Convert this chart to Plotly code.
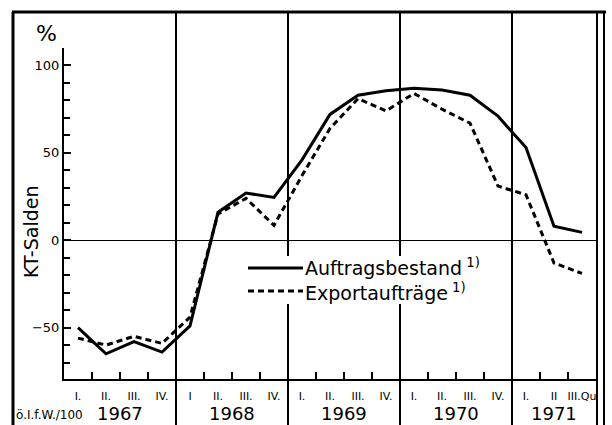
import plotly.graph_objects as go

# KT-Salden (Konjunkturtest), quarterly, 1967 I. - 1971 III.
quarters = ["I.", "II.", "III.", "IV.",
            "I", "II.", "III.", "IV.",
            "I.", "II.", "III.", "IV.",
            "I.", "II.", "III.", "IV.",
            "I.", "II", "III.Qu"]
years = ["1967", "1968", "1969", "1970", "1971"]
quarters_per_year = [4, 4, 4, 4, 3]
auftragsbestand = [-50, -65, -58, -64, -49, 16, 27, 24.5, 46, 72, 83, 85.5, 87, 86, 83, 71, 53, 8, 4.5]
exportauftraege = [-56, -60, -55, -59, -44, 15, 24, 8.5, 37, 64, 81, 74, 84, 75, 67, 31, 26, -13, -19]

x = list(range(len(quarters)))

# plot box in pixels (612x425 page)
L, R, T, B = 64, 596, 48, 379
W, H = R - L, B - T

def px(xp):
    return (xp - L) / W

def py(yp):
    return (B - yp) / H

FONT = "DejaVu Sans"

fig = go.Figure()
fig.add_trace(go.Scatter(x=x, y=auftragsbestand, mode="lines", name="Auftragsbestand",
                         line=dict(color="black", width=3), showlegend=False))
fig.add_trace(go.Scatter(x=x, y=exportauftraege, mode="lines", name="Exportaufträge",
                         line=dict(color="black", width=3, dash="6px,4px"), showlegend=False))

shapes = []
# year dividers, running through the whole frame
start = 0
year_centers = []
for n in quarters_per_year:
    year_centers.append(start + (n - 1) / 2)
    start += n
    if start < len(quarters):
        xb = start / len(quarters)
        shapes.append(dict(type="line", xref="paper", yref="paper", x0=xb, x1=xb,
                           y0=py(425), y1=py(12), line=dict(color="black", width=2)))

# outer frame
shapes += [
    dict(type="line", xref="paper", yref="paper", x0=px(13), x1=px(13), y0=py(425), y1=py(12),
         line=dict(color="black", width=3)),
    dict(type="line", xref="paper", yref="paper", x0=px(12), x1=px(606), y0=py(12), y1=py(12),
         line=dict(color="black", width=3)),
    dict(type="line", xref="paper", yref="paper", x0=px(597), x1=px(597), y0=py(425), y1=py(12),
         line=dict(color="black", width=2)),
    dict(type="line", xref="paper", yref="paper", x0=px(604), x1=px(604), y0=py(425), y1=py(12),
         line=dict(color="black", width=2)),
]

# legend box
shapes += [
    dict(type="rect", xref="paper", yref="paper", x0=px(244), x1=px(498), y0=py(304), y1=py(256),
         fillcolor="white", line=dict(width=0)),
    dict(type="line", xref="paper", yref="paper", x0=px(248), x1=px(303), y0=py(268), y1=py(268),
         line=dict(color="black", width=3)),
    dict(type="line", xref="paper", yref="paper", x0=px(248), x1=px(303), y0=py(291), y1=py(291),
         line=dict(color="black", width=3, dash="6px,4px")),
]

annotations = [
    dict(text="Auftragsbestand<sup> 1)</sup>", xref="paper", yref="paper", x=px(303), y=py(267),
         xanchor="left", yanchor="middle", showarrow=False, font=dict(size=19)),
    dict(text="Exportaufträge<sup> 1)</sup>", xref="paper", yref="paper", x=px(303), y=py(292),
         xanchor="left", yanchor="middle", showarrow=False, font=dict(size=19)),
    dict(text="%", xref="paper", yref="paper", x=px(46), y=py(34),
         xanchor="center", yanchor="middle", showarrow=False, font=dict(size=22)),
    dict(text="KT-Salden", xref="paper", yref="paper", x=px(31), y=py(232), textangle=-90,
         xanchor="center", yanchor="middle", showarrow=False, font=dict(size=19)),
    dict(text="ö.I.f.W./100", xref="paper", yref="paper", x=px(14), y=py(415),
         xanchor="left", yanchor="middle", showarrow=False, font=dict(size=12)),
]
for yr, xc in zip(years, year_centers):
    annotations.append(dict(text=yr, xref="x", yref="paper", x=xc, y=py(414),
                            xanchor="center", yanchor="middle", showarrow=False,
                            font=dict(size=18)))

fig.update_layout(
    width=612, height=425,
    margin=dict(l=L, r=612 - R, t=T, b=425 - B, autoexpand=False),
    plot_bgcolor="white", paper_bgcolor="white",
    font=dict(family=FONT, color="black"),
    shapes=shapes, annotations=annotations,
    showlegend=False,
    xaxis=dict(range=[-0.5, len(quarters) - 0.5], showgrid=False, zeroline=False,
               showline=True, linecolor="black", linewidth=2,
               tickmode="array", tickvals=x, ticktext=quarters, ticks="",
               tickfont=dict(size=11), ticklabelstandoff=6,
               minor=dict(tickmode="array", tickvals=[i - 0.5 for i in x[1:]],
                          ticks="inside", ticklen=7, tickwidth=2, tickcolor="black")),
    yaxis=dict(range=[-79.4, 110], showgrid=False, zeroline=True, zerolinecolor="black",
               zerolinewidth=1, showline=True, linecolor="black", linewidth=2,
               tickmode="array", tickvals=[-50, 0, 50, 100],
               ticks="inside", ticklen=7, tickwidth=2, tickcolor="black",
               tickfont=dict(size=13),
               minor=dict(dtick=10, tick0=0, ticks="inside", ticklen=6, tickwidth=2,
                          tickcolor="black")),
)

fig.write_html("out.html", config={"displayModeBar": False},
               post_script="document.body.style.margin='0';document.body.style.overflow='hidden';")
